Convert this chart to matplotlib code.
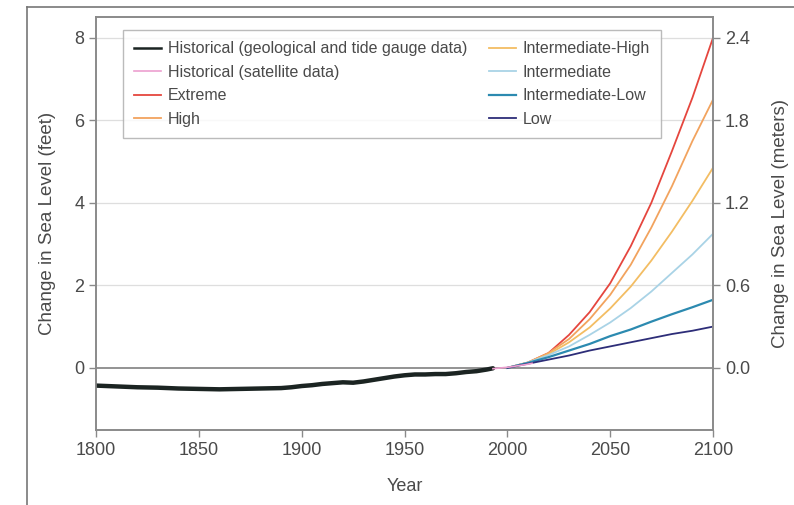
import matplotlib
matplotlib.use("Agg")
import matplotlib.pyplot as plt
from matplotlib.lines import Line2D

plt.rcParams['font.family'] = ['Liberation Sans', 'DejaVu Sans']

# historical record (feet, relative to 2000)
hist_years = [1800, 1810, 1820, 1830, 1840, 1850, 1860, 1870, 1880, 1890,
              1895, 1900, 1905, 1910, 1915, 1920, 1925, 1930, 1935, 1940,
              1945, 1950, 1955, 1960, 1965, 1970, 1975, 1980, 1985, 1990, 1993]
hist_ft = [-0.43, -0.45, -0.47, -0.48, -0.50, -0.51, -0.52, -0.51, -0.50, -0.49,
           -0.47, -0.44, -0.42, -0.39, -0.37, -0.35, -0.36, -0.33, -0.29, -0.25,
           -0.21, -0.18, -0.16, -0.16, -0.15, -0.15, -0.13, -0.10, -0.08, -0.04, -0.01]

sat_years = [1993, 1997, 2001, 2005, 2009, 2012]
sat_ft = [-0.02, 0.0, 0.02, 0.05, 0.08, 0.11]

# scenarios (feet, relative to 2000)
scen_years = [2000, 2010, 2020, 2030, 2040, 2050, 2060, 2070, 2080, 2090, 2100]
extreme = [0, 0.13, 0.36, 0.80, 1.35, 2.05, 2.95, 4.00, 5.25, 6.55, 8.00]
high = [0, 0.13, 0.36, 0.70, 1.18, 1.77, 2.50, 3.40, 4.40, 5.50, 6.50]
int_high = [0, 0.13, 0.33, 0.62, 0.98, 1.44, 1.97, 2.60, 3.30, 4.05, 4.85]
intermediate = [0, 0.13, 0.31, 0.52, 0.80, 1.10, 1.45, 1.85, 2.30, 2.75, 3.25]
int_low = [0, 0.12, 0.26, 0.42, 0.58, 0.77, 0.93, 1.12, 1.30, 1.47, 1.65]
low = [0, 0.10, 0.20, 0.30, 0.42, 0.52, 0.62, 0.72, 0.82, 0.90, 1.00]

ft_ticks = [0, 2, 4, 6, 8]
m_ticks = [0.0, 0.6, 1.2, 1.8, 2.4]
year_ticks = [1800, 1850, 1900, 1950, 2000, 2050, 2100]

grey = '#8a8a8a'
txt = '#4a4a4a'

fig = plt.figure(figsize=(7.94, 5.05), dpi=100)
ax = fig.add_axes([0.121, 0.149, 0.777, 0.817])

# outer frame (left and top only)
fig.add_artist(Line2D([0.034, 0.034], [0.0, 0.986], transform=fig.transFigure, color='#777777', lw=1.2))
fig.add_artist(Line2D([0.034, 1.0], [0.986, 0.986], transform=fig.transFigure, color='#777777', lw=1.2))

for t in [2, 4, 6, 8]:
    ax.axhline(t, color='#dedede', lw=0.9, zorder=0)
ax.axhline(0, color=grey, lw=1.3, zorder=1)

ax.plot(hist_years, hist_ft, color='#1b2422', lw=3.2, solid_capstyle='round', zorder=3)
h_sat, = ax.plot(sat_years, sat_ft, color='#ec9fcf', lw=1.2, zorder=4, label='Historical (satellite data)')
h_ext, = ax.plot(scen_years, extreme, color='#e5463e', lw=1.3, label='Extreme')
h_high, = ax.plot(scen_years, high, color='#f2a35e', lw=1.3, label='High')
h_ih, = ax.plot(scen_years, int_high, color='#f3bd63', lw=1.3, label='Intermediate-High')
h_int, = ax.plot(scen_years, intermediate, color='#a9d3e6', lw=1.3, label='Intermediate')
h_il, = ax.plot(scen_years, int_low, color='#2c8ab0', lw=1.6, label='Intermediate-Low')
h_low, = ax.plot(scen_years, low, color='#2d2d78', lw=1.3, label='Low')
h_hist = Line2D([], [], color='#1b2422', lw=1.8, label='Historical (geological and tide gauge data)')

ax.set_xlim(1800, 2100)
ax.set_ylim(-1.5, 8.5)
ax.set_xticks(year_ticks)
ax.set_yticks(ft_ticks)
for s in ax.spines.values():
    s.set_color(grey)
    s.set_linewidth(1.2)
ax.tick_params(colors=grey, labelcolor=txt, labelsize=13, length=5, width=1)
ax.set_xlabel('Year', color=txt, fontsize=13, labelpad=14)
ax.set_ylabel('Change in Sea Level (feet)', color=txt, fontsize=13.5, labelpad=13)

ax2 = ax.twinx()
ax2.set_ylim(-1.5 * 0.3, 8.5 * 0.3)
ax2.set_yticks(m_ticks)
ax2.set_yticklabels(['%.1f' % v for v in m_ticks])
for s in ax2.spines.values():
    s.set_color(grey)
    s.set_linewidth(1.2)
ax2.tick_params(colors=grey, labelcolor=txt, labelsize=13, length=5, width=1)
ax2.set_ylabel('Change in Sea Level (meters)', color=txt, fontsize=13.5, labelpad=16)

handles = [h_hist, h_sat, h_ext, h_high, h_ih, h_int, h_il, h_low]
leg = ax.legend(handles=handles, ncol=2, loc='upper left', bbox_to_anchor=(0.0438, 0.9685),
                borderaxespad=0, fontsize=11.5, frameon=True, fancybox=False, edgecolor='#aaaaaa',
                handlelength=1.7, handletextpad=0.4, columnspacing=1.35,
                labelspacing=0.53, borderpad=0.7, labelcolor=txt)
leg.get_frame().set_linewidth(1.0)

fig.savefig('out.png', dpi=100)
